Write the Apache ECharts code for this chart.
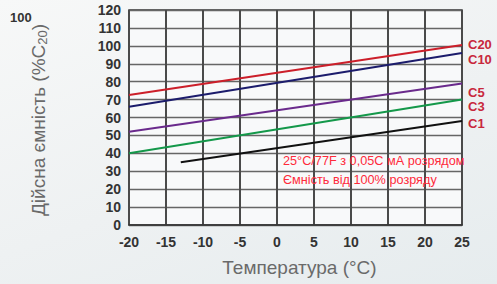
<!DOCTYPE html>
<html>
<head>
<meta charset="utf-8">
<script src="https://cdn.jsdelivr.net/npm/echarts@6/dist/echarts.min.js"></script>
<style>
html,body{margin:0;padding:0;}
body{width:497px;height:284px;background:linear-gradient(160deg,#f7f8f8 0%,#eef1f2 55%,#e6ecee 100%);}
#c{width:497px;height:284px;}
</style>
</head>
<body>
<div id="c"></div>
<script>
var seriesNames = ['C20','C10','C5','C3','C1'];
var temps20 = [-20, 25];
var c20 = [72.5, 100.5];
var c10 = [66, 96];
var c5 = [52, 79];
var c3 = [40, 70];
var tempsC1 = [-13, 25];
var c1 = [35, 58];
var lineColors = ['#cc1f2a','#1c1c6c','#6a2a8c','#14984a','#111111'];
var labelOffsets = [[0,0],[0,6],[0,9],[0,7],[0,2]];

function pairs(xs, ys){ return xs.map(function(x,i){ return [x, ys[i]]; }); }
var dataSets = [pairs(temps20,c20), pairs(temps20,c10), pairs(temps20,c5), pairs(temps20,c3), pairs(tempsC1,c1)];

var font = 'Arial, "Liberation Sans", sans-serif';
var series = dataSets.map(function(d,i){
  return {type:'line',name:seriesNames[i],data:d,symbol:'none',z:5,
    lineStyle:{color:lineColors[i],width:2},
    endLabel:{show:true,formatter:seriesNames[i],color:'#c8283c',fontWeight:'bold',fontSize:13,fontFamily:font,distance:6,offset:labelOffsets[i]}
  };
});

var chart = echarts.init(document.getElementById('c'), null, {renderer:'svg'});
chart.setOption({
  animation:false,
  backgroundColor:'transparent',
  grid:{left:129,right:35,top:10,bottom:59,show:true,backgroundColor:'#f8f9fa',borderColor:'#333',borderWidth:1.5},
  xAxis:{type:'value',min:-20,max:25,interval:5,
    axisLine:{show:true,onZero:false,lineStyle:{color:'#333',width:1.5}},
    axisTick:{show:false},
    splitLine:{show:true,lineStyle:{color:'#4a4a4a',width:2,type:'solid'}},
    axisLabel:{color:'#333',fontWeight:'bold',fontSize:14,fontFamily:font,margin:10},
    name:'Температура (°C)',nameLocation:'middle',nameGap:33,
    nameTextStyle:{color:'#6a6a6a',fontSize:19,fontFamily:font,padding:[0,0,0,8]}
  },
  yAxis:{type:'value',min:0,max:120,interval:10,
    axisLine:{show:false,onZero:false},
    axisTick:{show:false},
    splitLine:{show:true,lineStyle:{color:'#666',width:1.3}},
    axisLabel:{color:'#333',fontWeight:'bold',fontSize:14,fontFamily:font,margin:8},
    name:'Дійсна ємність (%C{s|20})',nameLocation:'middle',nameGap:80,
    nameTextStyle:{color:'#6a6a6a',fontSize:19,fontFamily:font,padding:[0,5,0,0],
      rich:{s:{fontSize:13,color:'#6a6a6a',fontFamily:font,verticalAlign:'bottom',padding:[9,0,0,0]}}}
  },
  series: series,
  graphic:[
    {type:'text',left:10,top:11,style:{text:'100',fill:'#333',font:'bold 13px '+font}},
    {type:'text',left:283,top:154,z:10,style:{text:'25°C/77F з 0,05C мА розрядом',fill:'#ff2a3a',font:'12.7px '+font}},
    {type:'text',left:283,top:173,z:10,style:{text:'Ємність від 100% розряду',fill:'#ff2a3a',font:'12.7px '+font}}
  ]
});
</script>
</body>
</html>
